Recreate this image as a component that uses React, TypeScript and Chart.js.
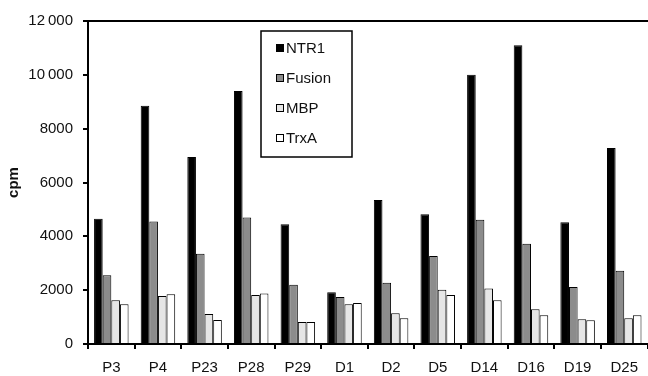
import React, { useEffect, useRef } from "react";
import { Chart, registerables } from "chart.js";

Chart.register(...registerables);

const categories = ["P3", "P4", "P23", "P28", "P29", "D1", "D2", "D5", "D14", "D16", "D19", "D25"];
const ntr1 = [4650, 8850, 6950, 9400, 4450, 1920, 5350, 4820, 10000, 11100, 4520, 7280];
const fusion = [2550, 4550, 3350, 4700, 2200, 1750, 2280, 3270, 4620, 3720, 2120, 2720];
const mbp = [1630, 1780, 1110, 1820, 820, 1480, 1140, 2020, 2060, 1290, 920, 960];
const trxa = [1480, 1850, 890, 1880, 820, 1520, 960, 1820, 1630, 1070, 880, 1070];
const seriesNames = ["NTR1", "Fusion", "MBP", "TrxA"];
const seriesColors = ["#000000", "#8c8c8c", "#e6e6e6", "#ffffff"];
const yTicks = [0, 2000, 4000, 6000, 8000, 10000, 12000];

const FONT = "'Liberation Sans', Arial, Helvetica, sans-serif";

const fmt = (v: number) => {
  if (v >= 10000) {
    const s = String(v);
    return s.slice(0, s.length - 3) + "\u2009" + s.slice(-3);
  }
  return String(v);
};

const framePlugin = {
  id: "frameAndLegend",
  afterDraw(chart: any) {
    const { ctx, chartArea } = chart;
    ctx.save();
    // top border
    ctx.strokeStyle = "#000";
    ctx.lineWidth = 2;
    ctx.beginPath();
    ctx.moveTo(chartArea.left, chartArea.top);
    ctx.lineTo(chart.width, chartArea.top);
    ctx.stroke();

    // legend box
    const bx = 261, by = 31, bw = 91, bh = 126;
    ctx.fillStyle = "#fff";
    ctx.fillRect(bx, by, bw, bh);
    ctx.lineWidth = 1.5;
    ctx.strokeRect(bx, by, bw, bh);
    ctx.font = `15px ${FONT}`;
    ctx.textBaseline = "middle";
    chart.data.datasets.forEach((ds: any, i: number) => {
      const cy = by + 17 + i * 30;
      ctx.fillStyle = ds.backgroundColor;
      ctx.fillRect(276, cy - 4, 8, 8);
      ctx.strokeStyle = "#000";
      ctx.lineWidth = 1;
      ctx.strokeRect(276.5, cy - 3.5, 7, 7);
      ctx.fillStyle = "#111";
      ctx.fillText(ds.label, 286, cy + 0.5);
    });
    ctx.restore();
  },
};

export default function App() {
  const ref = useRef<HTMLCanvasElement | null>(null);
  useEffect(() => {
    document.body.style.margin = "0";
    if (!ref.current) return;
    const data = [ntr1, fusion, mbp, trxa];
    const chart = new Chart(ref.current, {
      type: "bar",
      data: {
        labels: categories,
        datasets: data.map((d, i) => ({
          label: seriesNames[i],
          data: d,
          backgroundColor: seriesColors[i],
          borderColor: "#000",
          borderWidth: 1,
          categoryPercentage: 0.74,
          barPercentage: 1.0,
        })),
      },
      options: {
        animation: false,
        responsive: false,
        maintainAspectRatio: false,
        layout: { padding: { top: 21, left: 0, right: 0, bottom: 0 } },
        plugins: { legend: { display: false }, tooltip: { enabled: false } },
        scales: {
          x: {
            afterFit: (s: any) => { s.height = 32; },
            grid: { display: true, drawOnChartArea: false, offset: true, tickLength: 5, color: "#000", lineWidth: 2 },
            border: { display: true, color: "#000", width: 2 },
            ticks: { color: "#111", font: { family: FONT, size: 15 }, padding: 10, maxRotation: 0, autoSkip: false },
          },
          y: {
            min: 0,
            max: 12000,
            afterFit: (s: any) => { s.width = 88; },
            afterBuildTicks: (s: any) => { s.ticks = yTicks.map((v) => ({ value: v })); },
            grid: { display: true, drawOnChartArea: false, tickLength: 5, color: "#000", lineWidth: 2 },
            border: { display: true, color: "#000", width: 2 },
            ticks: { color: "#111", font: { family: FONT, size: 15 }, padding: 10, callback: (v: any) => fmt(Number(v)) },
            title: { display: true, text: "cpm", color: "#111", font: { family: FONT, size: 15, weight: "bold" }, padding: { top: 5, bottom: 0 } },
          },
        },
      },
      plugins: [framePlugin],
    });
    return () => chart.destroy();
  }, []);
  return (
    <div style={{ width: 648, height: 376, background: "#fff" }}>
      <canvas ref={ref} width={648} height={376} style={{ display: "block" }} />
    </div>
  );
}
